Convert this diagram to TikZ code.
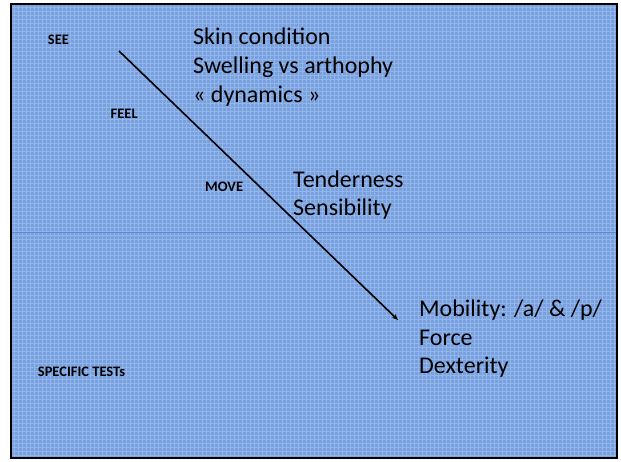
\documentclass[tikz,border=0pt]{standalone}
\usepackage{fontspec}
\setmainfont{Carlito}
\usetikzlibrary{matrix,arrows.meta}
\definecolor{panelblue}{RGB}{120,160,222}
\definecolor{weaveblue}{RGB}{146,182,234}
\definecolor{seamblue}{RGB}{92,138,214}
\tikzset{
  panel/.style    = {fill=panelblue, draw=none},
  weave/.style    = {draw=weaveblue, line width=0.7pt},
  step label/.style = {font=\bfseries\fontsize{14.5}{17}\selectfont, inner sep=0pt,
                     anchor=base west},
  findings/.style = {matrix of nodes, inner sep=0pt, row sep=6pt,
                     anchor=north west,
                     nodes={font=\fontsize{24}{28}\selectfont, inner sep=0pt,
                            text height=17pt, text depth=6pt, anchor=west}},
  exam/.style     = {line width=1.6pt, -{Stealth[length=6pt,width=5pt]}}
}
\begin{document}
\begin{tikzpicture}[x=1pt,y=-1pt]
  \useasboundingbox (0,0) rectangle (621,461);
  % background of the two panels
  \fill[panel] (11,4) rectangle (617,458);
  \foreach \x in {14,18,...,614} {
    \draw[weave] (\x,5) -- (\x,457);}
  \foreach \y in {7,11,...,455} {
    \draw[weave] (12,\y) -- (616,\y);}
  \draw[seamblue, line width=1pt] (12,232) -- (616,232);
  \draw[line width=2pt] (11,4) rectangle (617,458);

  % steps of the examination
  \node[step label] (see)   at (47.7,44.3)  {SEE};
  \node[step label] (feel)  at (110.5,118.3) {FEEL};
  \node[step label] (move)  at (205,191.7) {MOVE};
  \node[step label] (tests) at (37.7,376.7) {SPECIFIC TESTs};

  % what is looked for
  \matrix (skin) [findings] at (193,27.7)
    {
      Skin condition      \\
      Swelling vs arthophy \\
      « dynamics »        \\
    };
  \matrix (tender) [findings, row sep=5pt] at (293,170.7)
    {
      Tenderness  \\
      Sensibility \\
    };
  \matrix (mobility) [findings, row sep=5.5pt] at (419,299.7)
    {
      Mobility: /a/ \& /p/ \\
      Force                \\
      Dexterity            \\
    };

  \coordinate (start) at (119,51);
  \coordinate (stop)  at (398,320);
  \draw[exam] (start) -- (stop);
\end{tikzpicture}
\end{document}
